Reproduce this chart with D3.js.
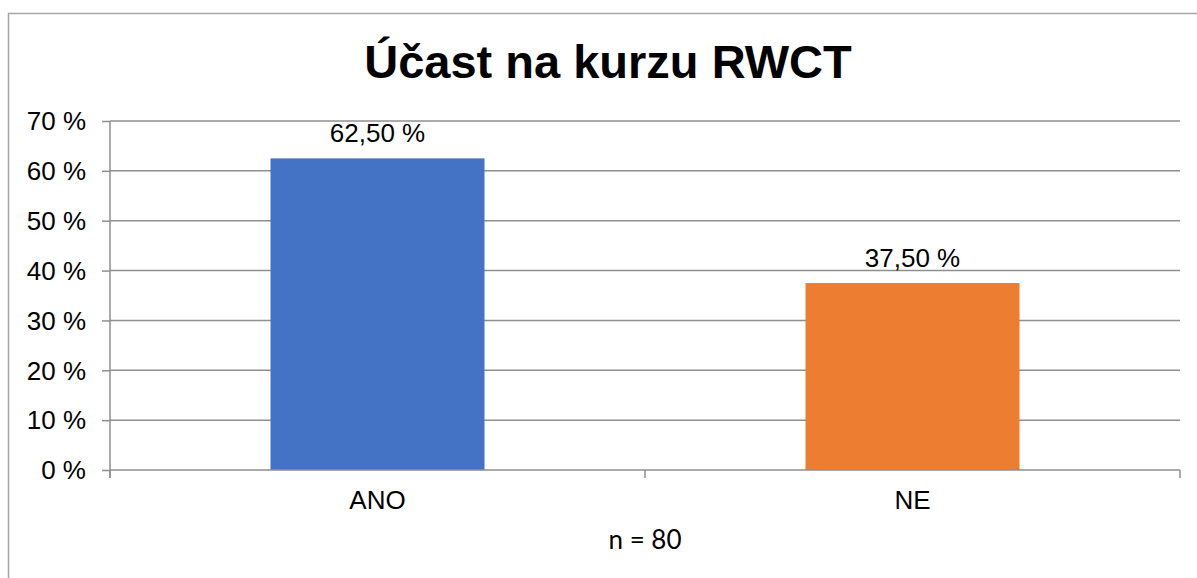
<!DOCTYPE html>
<html>
<head>
<meta charset="utf-8">
<script src="https://cdn.jsdelivr.net/npm/d3@7"></script>
<style>
  body { margin: 0; background: #fff; }
  svg { display: block; }
</style>
</head>
<body>
<div id="chart"></div>
<script>
const WIDTH = 1197
const HEIGHT = 578

// data
const categories = ["ANO", "NE"];
const values = [0.625, 0.375];
const valueLabels = ["62,50 %", "37,50 %"];
const yTicks = [0, 0.1, 0.2, 0.3, 0.4, 0.5, 0.6, 0.7];
const barColors = ["#4472C4", "#ED7D31"];
const title = "Účast na kurzu RWCT";
const note = "n = 80";

const margin = { top: 121, right: 17, bottom: 108, left: 110 };

var svg = d3.select("#chart").append("svg")
    .attr("width", WIDTH)
    .attr("height", HEIGHT);

// outer chart frame (runs off the right and bottom edge)
svg.append("rect")
    .attr("x", 8.5)
    .attr("y", 13.5)
    .attr("width", WIDTH)
    .attr("height", HEIGHT)
    .attr("fill", "none")
    .attr("stroke", "#a6a6a6")
    .attr("stroke-width", 1.5);

var xScale = d3.scaleBand()
    .domain(categories)
    .range([margin.left, WIDTH - margin.right])
    .paddingInner(0.6)
    .paddingOuter(0.3);

var yScale = d3.scaleLinear()
    .domain([0, 0.7])
    .range([HEIGHT - margin.bottom, margin.top]);

const fmt = d => Math.round(d * 100) + " %";

// gridlines
svg.append("g")
    .selectAll("line")
    .data(yTicks.filter(d => d > 0))
    .enter()
    .append("line")
        .attr("x1", margin.left)
        .attr("x2", WIDTH - margin.right)
        .attr("y1", d => yScale(d))
        .attr("y2", d => yScale(d))
        .attr("stroke", "#8f8f8f")
        .attr("stroke-width", 1.5);

// bars
svg.append("g")
    .selectAll("rect")
    .data(categories)
    .enter()
    .append("rect")
        .attr("x", d => xScale(d))
        .attr("y", (d, i) => yScale(values[i]))
        .attr("width", xScale.bandwidth())
        .attr("height", (d, i) => yScale(0) - yScale(values[i]))
        .attr("fill", (d, i) => barColors[i]);

// y axis
var yAxis = svg.append("g")
    .attr("transform", `translate(${margin.left},0)`)
    .call(d3.axisLeft(yScale).tickValues(yTicks).tickFormat(fmt).tickSize(8).tickPadding(16));
yAxis.select(".domain").remove();
yAxis.selectAll(".tick line").attr("stroke", "#8f8f8f").attr("stroke-width", 1.5);
yAxis.selectAll(".tick text")
    .attr("font-family", "'Liberation Sans', Arial, sans-serif")
    .attr("font-size", "26px")
    .attr("fill", "#000")
    .attr("dy", "0.34em");

svg.append("line")
    .attr("x1", margin.left)
    .attr("x2", margin.left)
    .attr("y1", yScale(0.7))
    .attr("y2", yScale(0) + 8)
    .attr("stroke", "#8f8f8f")
    .attr("stroke-width", 1.5);

// x axis line and category ticks between bands
svg.append("line")
    .attr("x1", margin.left)
    .attr("x2", WIDTH - margin.right)
    .attr("y1", yScale(0))
    .attr("y2", yScale(0))
    .attr("stroke", "#8f8f8f")
    .attr("stroke-width", 1.5);

const bounds = [0, 1, 2].map(i => margin.left + i * (WIDTH - margin.left - margin.right) / 2);
svg.append("g")
    .selectAll("line")
    .data(bounds)
    .enter()
    .append("line")
        .attr("x1", d => d)
        .attr("x2", d => d)
        .attr("y1", yScale(0))
        .attr("y2", yScale(0) + 8)
        .attr("stroke", "#8f8f8f")
        .attr("stroke-width", 1.5);

// category labels
svg.append("g")
    .selectAll("text")
    .data(categories)
    .enter()
    .append("text")
        .attr("x", d => xScale(d) + xScale.bandwidth() / 2)
        .attr("y", yScale(0) + 39)
        .attr("text-anchor", "middle")
        .attr("font-family", "'Liberation Sans', Arial, sans-serif")
        .attr("font-size", "26px")
        .attr("fill", "#000")
        .text(d => d);

// value labels
svg.append("g")
    .selectAll("text")
    .data(categories)
    .enter()
    .append("text")
        .attr("x", d => xScale(d) + xScale.bandwidth() / 2)
        .attr("y", (d, i) => yScale(values[i]) - 16)
        .attr("text-anchor", "middle")
        .attr("font-family", "'Liberation Sans', Arial, sans-serif")
        .attr("font-size", "26px")
        .attr("fill", "#000")
        .text((d, i) => valueLabels[i]);

// title
svg.append("text")
    .attr("x", 608)
    .attr("y", 78)
    .attr("text-anchor", "middle")
    .attr("font-family", "'Liberation Sans', Arial, sans-serif")
    .attr("font-weight", "bold")
    .attr("font-size", "47px")
    .attr("fill", "#000")
    .text(title);

// sample size note
svg.append("text")
    .attr("x", bounds[1])
    .attr("y", 549)
    .attr("text-anchor", "middle")
    .attr("font-family", "Lato, 'Open Sans', sans-serif")
    .attr("font-size", "26px")
    .attr("fill", "#000")
    .text(note);
</script>
</body>
</html>
